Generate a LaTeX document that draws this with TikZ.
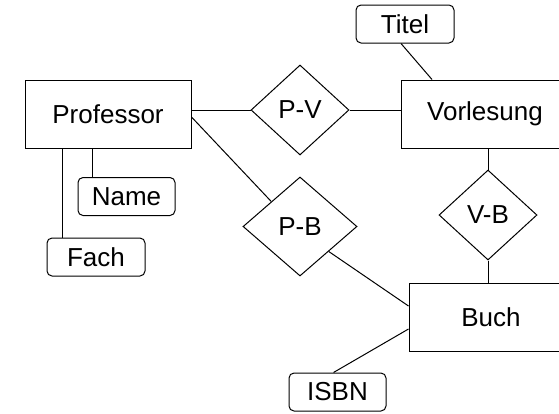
\documentclass[tikz,border=0pt]{standalone}
\usepackage{fontspec}
\setmainfont{Liberation Sans}
\usetikzlibrary{shapes.geometric}
\begin{document}
\begin{tikzpicture}[x=1pt,y=1pt,
  every node/.style={font=\fontsize{26}{30}\selectfont, inner sep=0pt},
  entity/.style={draw, line width=1pt, minimum height=68pt},
  attr/.style={draw, line width=1pt, rounded corners=5pt, minimum height=38pt, minimum width=97pt},
  rel/.style={draw, line width=1pt, shape=diamond},
  conn/.style={line width=1pt}]
\useasboundingbox (0,0) rectangle (559,-413);
\begin{scope}
\clip (0,0) rectangle (559,-413);
\node[entity, minimum width=166pt] (prof) at (108,-114) {Professor};
\node[entity, minimum width=168pt] (vorl) at (485,-114) {Vorlesung};
\node[entity, minimum width=164pt] (buch) at (491,-317) {Buch};
\node[attr] (name) at (126.5,-196.5) {Name};
\node[attr, minimum width=98pt] (fach) at (96,-257) {Fach};
\node[attr, minimum width=98pt] (titel) at (405,-24) {Titel};
\node[attr] (isbn) at (337.5,-392) {ISBN};
\node[rel, minimum width=98pt, minimum height=90pt] (pv) at (300,-110) {P-V};
\node[rel, minimum width=114pt, minimum height=99pt] (pb) at (300,-226.5) {P-B};
\node[rel, minimum width=98pt, minimum height=90pt] (vb) at (488,-215) {V-B};
\coordinate (nt) at ([xshift=15pt]name.north west);
\coordinate (ft) at ([xshift=16pt]fach.north west);
\draw[conn] (prof.east |- pv.west) -- (pv.west);
\draw[conn] (pv.east) -- (vorl.west |- pv.east);
\draw[conn] ([yshift=-3pt]prof.east) -- (pb.north west);
\draw[conn] (pb.south east) -- ([yshift=11pt]buch.west);
\draw[conn] ([yshift=-12pt]buch.west) -- ([xshift=-4pt]isbn.north);
\draw[conn] (vb.north) -- (vb.north |- vorl.south);
\draw[conn] (vb.south) -- (vb.south |- buch.north);
\draw[conn] ([xshift=-4pt]titel.south) -- ([xshift=-53pt]vorl.north);
\draw[conn] (nt) -- (nt |- prof.south);
\draw[conn] (ft) -- (ft |- prof.south);
\end{scope}
\end{tikzpicture}
\end{document}
